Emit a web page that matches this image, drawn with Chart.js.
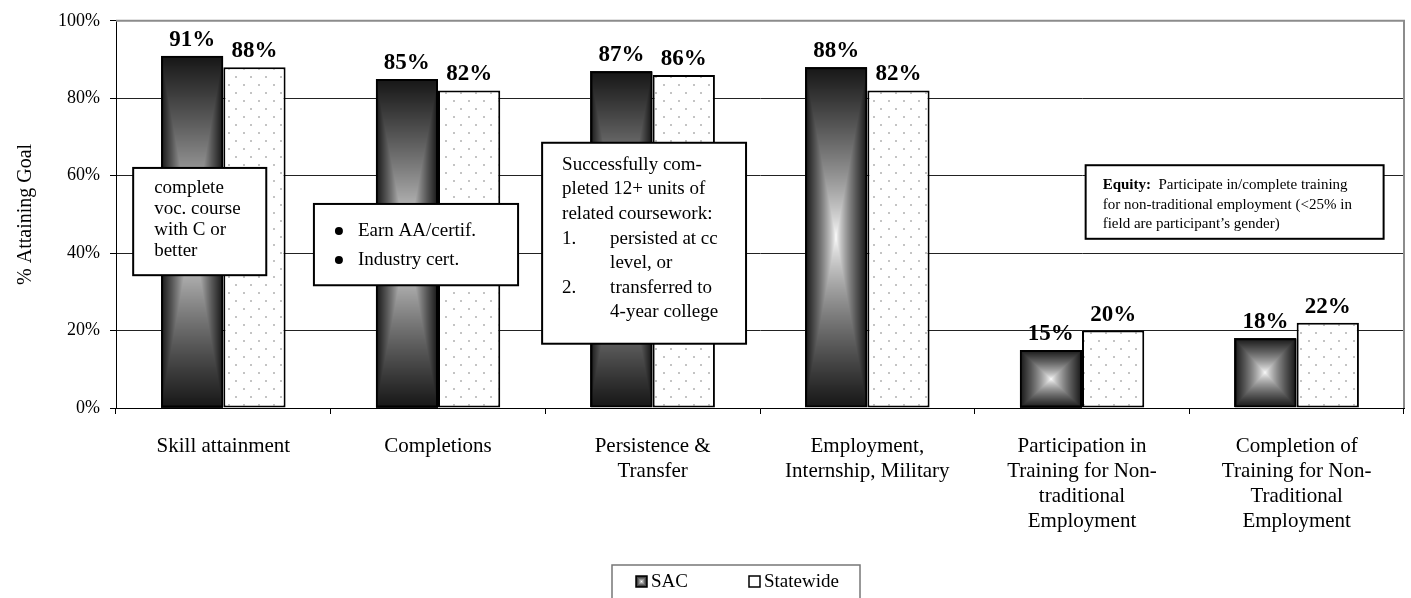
<!DOCTYPE html>
<html>
<head>
<meta charset="utf-8">
<script src="https://cdn.jsdelivr.net/npm/chart.js@4"></script>
<style>
  html, body { margin: 0; padding: 0; background: #fff; }
  #wrap { width: 1411px; height: 598px; position: relative; }
</style>
</head>
<body>
<div id="wrap"><canvas id="chart"></canvas></div>
<script>
const categories = [
  ["Skill attainment"],
  ["Completions"],
  ["Persistence &", "Transfer"],
  ["Employment,", "Internship, Military"],
  ["Participation in", "Training for Non-", "traditional", "Employment"],
  ["Completion of", "Training for Non-", "Traditional", "Employment"],
];
const sacValues = [91, 85, 87, 88, 15, 18];
const statewideValues = [88, 82, 86, 82, 20, 22];
const yTicks = [0, 20, 40, 60, 80, 100];
const seriesNames = ["SAC", "Statewide"];

// text boxes: anchored to a category (offsets in category widths) and to y values
const notes = [
  { cat: 0, from: -0.42, to: 0.20, top: 62, bottom: 34.3, size: 19, lh: 21, pad: 21, first: 20,
    lines: [["complete"], ["voc. course"], ["with C or"], ["better"]] },
  { cat: 1, from: -0.578, to: 0.373, top: 52.7, bottom: 31.7, size: 19, lh: 29, pad: 44, first: 27,
    bullets: true, lines: [["Earn AA/certif."], ["Industry cert."]] },
  { cat: 2, from: -0.515, to: 0.435, top: 68.5, bottom: 16.6, size: 19, lh: 24.6, pad: 20, first: 22,
    lines: [["Successfully com-"], ["pleted 12+ units of"], ["related coursework:"],
            ["1.", "persisted at cc"], ["", "level, or"], ["2.", "transferred to"], ["", "4-year college"]] },
  { cat: 4, from: 0.017, to: 1.405, top: 62.7, bottom: 43.7, size: 15, lh: 19.5, pad: 17, first: 20,
    lead: "Equity:", lines: [["  Participate in/complete training"], ["for non-traditional employment (<25% in"],
            ["field are participant\u2019s gender)"]] },
];

Chart.defaults.font.family = "'Liberation Serif', 'Times New Roman', serif";
Chart.defaults.color = "#000";

function dotPattern() {
  const c = document.createElement("canvas");
  c.width = 15;
  c.height = 16;
  const g = c.getContext("2d");
  g.fillStyle = "#fff";
  g.fillRect(0, 0, 15, 16);
  g.fillStyle = "#c4c4c4";
  g.fillRect(3, 4, 2, 2);
  g.fillRect(10, 12, 2, 2);
  return g.createPattern(c, "repeat");
}

function boxGradient(ctx, l, t, w, h) {
  w = Math.round(w);
  h = Math.round(h);
  if (w < 1 || h < 1) return;
  const img = ctx.createImageData(w, h);
  const hw = w / 2, hh = h / 2;
  for (let j = 0; j < h; j++) {
    for (let i = 0; i < w; i++) {
      const d = Math.max(Math.abs(i + 0.5 - hw) / hw, Math.abs(j + 0.5 - hh) / hh);
      const v = Math.round(255 - (255 - 22) * Math.pow(d, 0.75));
      const k = (j * w + i) * 4;
      img.data[k] = img.data[k + 1] = img.data[k + 2] = v;
      img.data[k + 3] = 255;
    }
  }
  const off = document.createElement("canvas");
  off.width = w;
  off.height = h;
  off.getContext("2d").putImageData(img, 0, 0);
  ctx.drawImage(off, Math.round(l), Math.round(t));
}

const decor = {
  id: "decor",
  beforeDatasetsDraw(chart) {
    const ctx = chart.ctx;
    chart.getDatasetMeta(0).data.forEach((bar) => {
      const { x, y, base, width } = bar.getProps(["x", "y", "base", "width"], true);
      boxGradient(ctx, x - width / 2, Math.min(y, base), width, Math.abs(base - y));
    });
  },
  afterDatasetsDraw(chart) {
    const ctx = chart.ctx;
    const xs = chart.scales.x, ys = chart.scales.y;
    ctx.save();
    // value labels
    ctx.font = "bold 23px 'Liberation Serif', serif";
    ctx.fillStyle = "#000";
    ctx.textAlign = "center";
    ctx.textBaseline = "alphabetic";
    chart.data.datasets.forEach((ds, di) => {
      chart.getDatasetMeta(di).data.forEach((bar, i) => {
        ctx.fillText(ds.data[i] + "%", bar.x, bar.y - 10);
      });
    });
    // plot frame (top/right grey)
    const a = chart.chartArea;
    ctx.strokeStyle = "#8c8c8c";
    ctx.lineWidth = 2;
    ctx.beginPath();
    ctx.moveTo(a.left, a.top);
    ctx.lineTo(a.right, a.top);
    ctx.lineTo(a.right, a.bottom);
    ctx.stroke();
    // note boxes
    const cw = xs.getPixelForValue(1) - xs.getPixelForValue(0);
    notes.forEach((n) => {
      const cx = xs.getPixelForValue(n.cat);
      const l = cx + n.from * cw, r = cx + n.to * cw;
      const t = ys.getPixelForValue(n.top), b = ys.getPixelForValue(n.bottom);
      ctx.fillStyle = "#fff";
      ctx.fillRect(l, t, r - l, b - t);
      ctx.strokeStyle = "#000";
      ctx.lineWidth = 2;
      ctx.strokeRect(l, t, r - l, b - t);
      ctx.fillStyle = "#000";
      ctx.textAlign = "left";
      ctx.textBaseline = "middle";
      n.lines.forEach((ln, k) => {
        const ty = t + n.first + k * n.lh;
        ctx.font = n.size + "px 'Liberation Serif', serif";
        if (n.bullets) {
          ctx.beginPath();
          ctx.arc(l + 25, ty, 4, 0, Math.PI * 2);
          ctx.fill();
          ctx.fillText(ln[0], l + n.pad, ty);
        } else if (ln.length > 1) {
          ctx.fillText(ln[0], l + n.pad, ty);
          ctx.fillText(ln[1], l + n.pad + 48, ty);
        } else if (n.lead && k === 0) {
          ctx.font = "bold " + n.size + "px 'Liberation Serif', serif";
          ctx.fillText(n.lead, l + n.pad, ty);
          const w = ctx.measureText(n.lead).width;
          ctx.font = n.size + "px 'Liberation Serif', serif";
          ctx.fillText(ln[0], l + n.pad + w, ty);
        } else {
          ctx.fillText(ln[0], l + n.pad, ty);
        }
      });
    });
    ctx.restore();
  },
  afterDraw(chart) {
    // legend box
    const ctx = chart.ctx;
    const lx = 612, ly = 565, lw = 248, lh = 40;
    ctx.save();
    ctx.fillStyle = "#fff";
    ctx.fillRect(lx, ly, lw, lh);
    ctx.strokeStyle = "#777";
    ctx.lineWidth = 1.5;
    ctx.strokeRect(lx, ly, lw, lh);
    ctx.font = "19px 'Liberation Serif', serif";
    ctx.textBaseline = "middle";
    ctx.textAlign = "left";
    const iy = ly + 11;
    const items = [lx + 24, lx + 137];
    chart.data.datasets.forEach((ds, i) => {
      const ix = items[i];
      if (i === 0) boxGradient(ctx, ix, iy, 11, 11);
      else {
        ctx.fillStyle = "#fff";
        ctx.fillRect(ix, iy, 11, 11);
      }
      ctx.strokeStyle = "#000";
      ctx.lineWidth = 1.5;
      ctx.strokeRect(ix, iy, 11, 11);
      ctx.fillStyle = "#000";
      ctx.fillText(ds.label, ix + 15, iy + 6);
    });
    ctx.restore();
  },
};

new Chart(document.getElementById("chart").getContext("2d"), {
  type: "bar",
  data: {
    labels: categories,
    datasets: [
      {
        label: seriesNames[0],
        data: sacValues,
        backgroundColor: "rgba(0,0,0,0)",
        borderColor: "#000",
        borderWidth: 2,
        borderSkipped: false,
      },
      {
        label: seriesNames[1],
        data: statewideValues,
        backgroundColor: dotPattern(),
        borderColor: "#000",
        borderWidth: 2,
        borderSkipped: false,
      },
    ],
  },
  options: {
    responsive: true,
    maintainAspectRatio: false,
    animation: false,
    layout: { padding: { top: 17, right: 7, left: 0, bottom: 0 } },
    datasets: { bar: { categoryPercentage: 0.58, barPercentage: 1.0 } },
    plugins: { legend: { display: false }, tooltip: { enabled: false } },
    scales: {
      x: {
        offset: true,
        grid: { display: true, drawOnChartArea: false, offset: true, color: "#000", tickLength: 6 },
        border: { color: "#000", width: 1 },
        ticks: { font: { size: 21, lineHeight: "25px" }, padding: 20, maxRotation: 0, autoSkip: false },
        afterFit: (s) => { s.height = 190; },
      },
      y: {
        min: 0,
        max: 100,
        afterBuildTicks: (s) => { s.ticks = yTicks.map((v) => ({ value: v })); },
        grid: {
          color: (c) => (c.tick && c.tick.value === 100 ? "rgba(0,0,0,0)" : "#222"),
          tickColor: "#000",
          tickLength: 6,
          lineWidth: 1,
        },
        border: { color: "#000", width: 1 },
        ticks: { font: { size: 18 }, padding: 10, callback: (v) => v + "%" },
        title: { display: true, text: "% Attaining Goal", font: { size: 20 }, padding: { top: 14, bottom: 4 } },
        afterFit: (s) => { s.width = 116; },
      },
    },
  },
  plugins: [decor],
});
</script>
</body>
</html>
